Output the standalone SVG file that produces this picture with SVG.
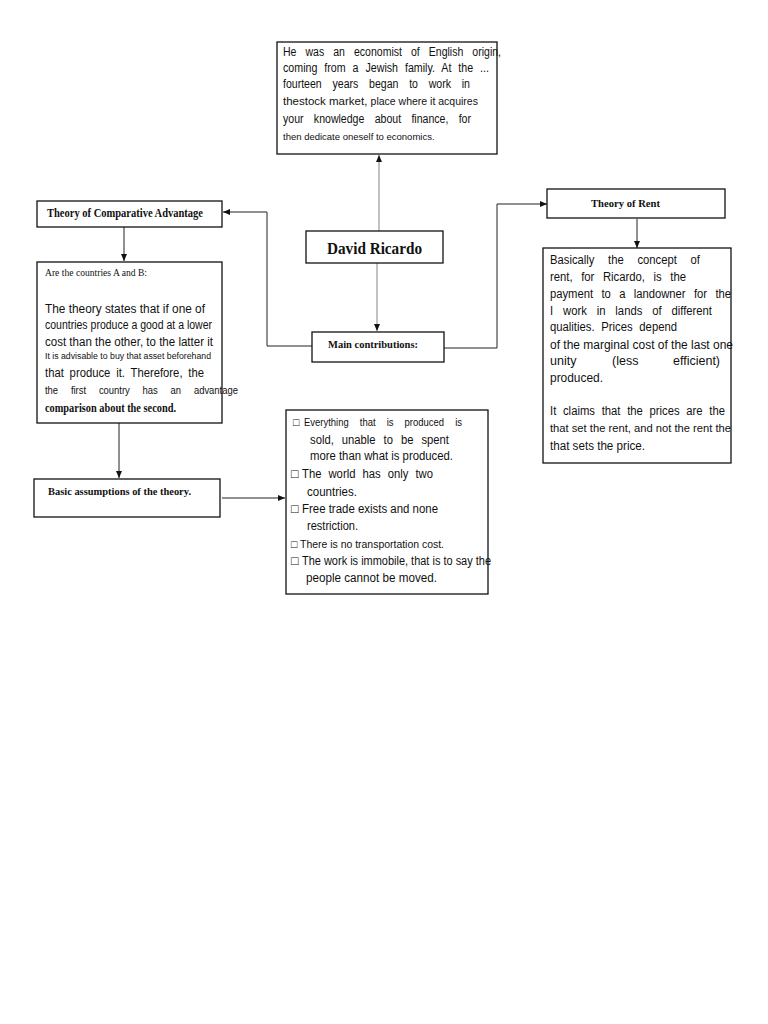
<svg xmlns="http://www.w3.org/2000/svg" width="768" height="1024" viewBox="0 0 768 1024">
<style>
.box{fill:#fff;stroke:#111;stroke-width:1.3}
.t{font-family:"Liberation Sans",Arial,sans-serif;fill:#111}
.h{font-family:"Liberation Serif","Times New Roman",serif;font-weight:bold;fill:#111}
.n{font-family:"Liberation Serif","Times New Roman",serif;font-weight:normal;fill:#111}
.c{fill:none;stroke:#222;stroke-width:1}
.g{fill:none;stroke:#999;stroke-width:1.2}
</style>
<defs>
<marker id="ah" markerUnits="userSpaceOnUse" markerWidth="8" markerHeight="8" refX="7" refY="4" orient="auto">
<path d="M0,1 L7,4 L0,7 Z" fill="#111"/>
</marker>
</defs>
<rect width="768" height="1024" fill="#fff"/>
<g id="connectors">
<line class="g" x1="379" y1="231" x2="379" y2="155" marker-end="url(#ah)"/>
<line class="g" x1="377" y1="263" x2="377" y2="331" marker-end="url(#ah)"/>
<polyline class="c" points="312,346 267,346 267,212 223,212" marker-end="url(#ah)"/>
<polyline class="c" points="444,348 497,348 497,204 547,204" marker-end="url(#ah)"/>
<line class="c" x1="124" y1="227" x2="124" y2="261" marker-end="url(#ah)"/>
<line class="c" x1="637" y1="219" x2="637" y2="248" marker-end="url(#ah)"/>
<line class="c" x1="119" y1="423" x2="119" y2="478" marker-end="url(#ah)"/>
<line class="c" x1="222" y1="498" x2="285" y2="498" marker-end="url(#ah)"/>
</g>
<g id="bio" font-size="12">
<rect class="box" x="277" y="42" width="220" height="112"/>
<text class="t" x="283" y="56" word-spacing="7" textLength="218" lengthAdjust="spacingAndGlyphs">He was an economist of English origin,</text>
<text class="t" x="283" y="72" word-spacing="4.5" textLength="206" lengthAdjust="spacingAndGlyphs">coming from a Jewish family. At the ...</text>
<text class="t" x="283" y="88" word-spacing="8.9" textLength="187" lengthAdjust="spacingAndGlyphs">fourteen years began to work in</text>
<text class="t" x="283" y="105"><tspan font-size="11.5">thestock market, </tspan><tspan font-size="10.5">place where it acquires</tspan></text>
<text class="t" x="283" y="123" word-spacing="8.4" textLength="188" lengthAdjust="spacingAndGlyphs">your knowledge about finance, for</text>
<text class="t" font-size="9.5" x="283" y="140">then dedicate oneself to economics.</text>
</g>
<g id="david-ricardo">
<rect class="box" x="306" y="231" width="137" height="32"/>
<text class="h" font-size="17" x="327" y="254" textLength="95" lengthAdjust="spacingAndGlyphs">David Ricardo</text>
</g>
<g id="main-contributions">
<rect class="box" x="312" y="332" width="132" height="30"/>
<text class="h" font-size="11" x="328" y="348" textLength="90" lengthAdjust="spacingAndGlyphs">Main contributions:</text>
</g>
<g id="comparative-advantage">
<rect class="box" x="37" y="201" width="185" height="26"/>
<text class="h" font-size="11.5" x="47" y="217" textLength="156" lengthAdjust="spacingAndGlyphs">Theory of Comparative Advantage</text>
</g>
<g id="comparative-text" font-size="12.5">
<rect class="box" x="37" y="262" width="185" height="161"/>
<text class="n" font-size="9.5" x="45" y="276" textLength="102" lengthAdjust="spacingAndGlyphs">Are the countries A and B:</text>
<text class="t" x="45" y="313" textLength="160" lengthAdjust="spacingAndGlyphs">The theory states that if one of</text>
<text class="t" font-size="12" x="45" y="329" textLength="167" lengthAdjust="spacingAndGlyphs">countries produce a good at a lower</text>
<text class="t" font-size="12" x="45" y="346" textLength="168" lengthAdjust="spacingAndGlyphs">cost than the other, to the latter it</text>
<text class="t" font-size="8.5" x="45" y="359" textLength="166" lengthAdjust="spacingAndGlyphs">It is advisable to buy that asset beforehand</text>
<text class="t" x="45" y="377" word-spacing="3" textLength="159" lengthAdjust="spacingAndGlyphs">that produce it. Therefore, the</text>
<text class="t" font-size="10.5" x="45" y="394" word-spacing="11.3" textLength="193" lengthAdjust="spacingAndGlyphs">the first country has an advantage</text>
<text class="h" font-size="11.5" x="45" y="412" textLength="131" lengthAdjust="spacingAndGlyphs">comparison about the second.</text>
</g>
<g id="basic-assumptions">
<rect class="box" x="34" y="479" width="186" height="38"/>
<text class="h" font-size="11" x="48" y="495" textLength="143" lengthAdjust="spacingAndGlyphs">Basic assumptions of the theory.</text>
</g>
<g id="assumptions-list" font-size="12.5">
<rect class="box" x="286" y="410" width="202" height="184"/>
<text class="t" font-size="10.5" y="426"><tspan x="293">□</tspan><tspan x="304" word-spacing="9.4" textLength="158" lengthAdjust="spacingAndGlyphs">Everything that is produced is</tspan></text>
<text class="t" x="310" y="444" word-spacing="5.4" textLength="139" lengthAdjust="spacingAndGlyphs">sold, unable to be spent</text>
<text class="t" x="310" y="460" textLength="143" lengthAdjust="spacingAndGlyphs">more than what is produced.</text>
<text class="t" y="478"><tspan x="291">□</tspan><tspan x="302" word-spacing="4.4" textLength="131" lengthAdjust="spacingAndGlyphs">The world has only two</tspan></text>
<text class="t" x="307" y="496" textLength="50" lengthAdjust="spacingAndGlyphs">countries.</text>
<text class="t" y="513"><tspan x="291">□</tspan><tspan x="302" textLength="136" lengthAdjust="spacingAndGlyphs">Free trade exists and none</tspan></text>
<text class="t" x="307" y="530" textLength="51" lengthAdjust="spacingAndGlyphs">restriction.</text>
<text class="t" font-size="10.5" y="548"><tspan x="291">□</tspan><tspan x="300" textLength="144" lengthAdjust="spacingAndGlyphs">There is no transportation cost.</tspan></text>
<text class="t" y="565"><tspan x="291">□</tspan><tspan x="302" textLength="189" lengthAdjust="spacingAndGlyphs">The work is immobile, that is to say the</tspan></text>
<text class="t" x="306" y="582" textLength="131" lengthAdjust="spacingAndGlyphs">people cannot be moved.</text>
</g>
<g id="theory-of-rent">
<rect class="box" x="547" y="189" width="178" height="29"/>
<text class="h" font-size="10.5" x="591" y="207" textLength="69" lengthAdjust="spacingAndGlyphs">Theory of Rent</text>
</g>
<g id="rent-text" font-size="12.5">
<rect class="box" x="543" y="248" width="188" height="215"/>
<text class="t" x="550" y="264" word-spacing="11.8" textLength="150" lengthAdjust="spacingAndGlyphs">Basically the concept of</text>
<text class="t" x="550" y="281" word-spacing="6" textLength="136" lengthAdjust="spacingAndGlyphs">rent, for Ricardo, is the</text>
<text class="t" x="550" y="298" word-spacing="5.8" textLength="181" lengthAdjust="spacingAndGlyphs">payment to a landowner for the</text>
<text class="t" x="550" y="315" word-spacing="7.5" textLength="162" lengthAdjust="spacingAndGlyphs">I work in lands of different</text>
<text class="t" x="550" y="331" word-spacing="4" textLength="127" lengthAdjust="spacingAndGlyphs">qualities. Prices depend</text>
<text class="t" x="550" y="349" textLength="183" lengthAdjust="spacingAndGlyphs">of the marginal cost of the last one</text>
<text class="t" y="365"><tspan x="550">unity</tspan><tspan x="612">(less</tspan><tspan x="673">efficient)</tspan></text>
<text class="t" x="550" y="382" textLength="53" lengthAdjust="spacingAndGlyphs">produced.</text>
<text class="t" x="550" y="415" word-spacing="4" textLength="175" lengthAdjust="spacingAndGlyphs">It claims that the prices are the</text>
<text class="t" font-size="11.5" x="550" y="432" textLength="181" lengthAdjust="spacingAndGlyphs">that set the rent, and not the rent the</text>
<text class="t" font-size="12" x="550" y="450" textLength="95" lengthAdjust="spacingAndGlyphs">that sets the price.</text>
</g>
</svg>
